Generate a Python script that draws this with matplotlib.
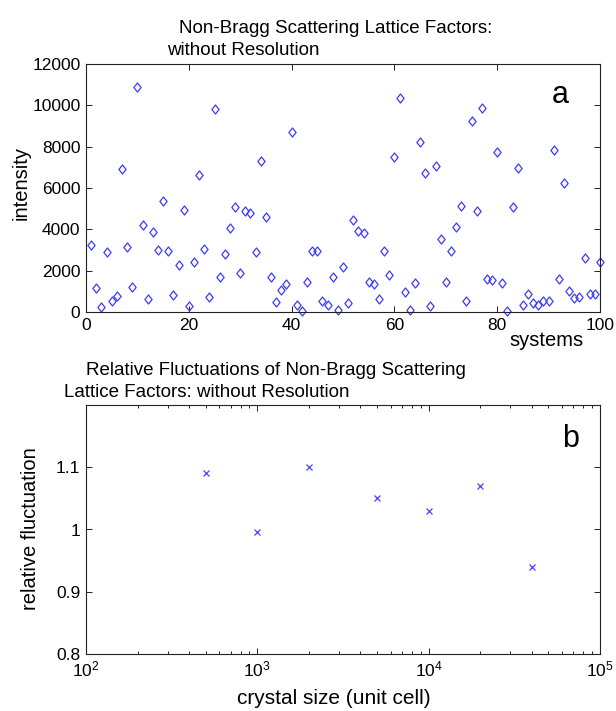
import matplotlib
matplotlib.use("Agg")
import matplotlib.pyplot as plt
from matplotlib.path import Path
from matplotlib.ticker import FixedLocator, LogLocator, NullFormatter

plt.rcParams['font.family'] = ['Liberation Sans', 'DejaVu Sans']
plt.rcParams['mathtext.default'] = 'regular'

# panel a - lattice factor intensity per system
systems = list(range(1, 101))
intensity = [3240, 1150, 260, 2920, 530, 760, 6940, 3160, 1190, 10870,
             4210, 610, 3860, 3000, 5390, 2940, 820, 2270, 4940, 310,
             2400, 6630, 3030, 710, 9810, 1690, 2790, 4050, 5070, 1900,
             4870, 4790, 2920, 7330, 4610, 1690, 480, 1050, 1370, 8730,
             360, 50, 1450, 2970, 2940, 530, 340, 1690, 80, 2160,
             450, 4470, 3920, 3810, 1450, 1370, 610, 2970, 1770, 7520,
             10370, 970, 80, 1420, 8230, 6730, 270, 7050, 3520, 1450,
             2970, 4130, 5110, 550, 9240, 4890, 9890, 1600, 1550, 7740,
             1390, 70, 5080, 6950, 340, 890, 440, 360, 530, 530,
             7840, 1610, 6240, 1030, 660, 740, 2630, 890, 870, 2400]
a_xticks = [0, 20, 40, 60, 80, 100]
a_yticks = [0, 2000, 4000, 6000, 8000, 10000, 12000]

# panel b - relative fluctuation vs crystal size
crystal_size = [500, 1000, 2000, 5000, 10000, 20000, 40000]
rel_fluct = [1.09, 0.996, 1.10, 1.05, 1.03, 1.07, 0.94]
b_yticks = [0.8, 0.9, 1.0, 1.1]
b_yticklabels = ['0.8', '0.9', '1', '1.1']

W, H = 616, 711
fig = plt.figure(figsize=(W / 100, H / 100), dpi=100)

def style_axes(ax):
    for s in ax.spines.values():
        s.set_linewidth(0.8)
        s.set_color('#222222')
    ax.tick_params(which='both', direction='in', top=True, right=True,
                   labelsize=12.5, width=0.7, color='#222222', pad=4)
    ax.tick_params(which='major', length=4)
    ax.tick_params(which='minor', length=2.5)

# matlab-like diamond, a bit taller than wide
diamond = Path([(0, 1), (0.8, 0), (0, -1), (-0.8, 0), (0, 1)],
               [Path.MOVETO, Path.LINETO, Path.LINETO, Path.LINETO, Path.CLOSEPOLY])

# ---------------- top panel ----------------
ax1 = fig.add_axes([86 / W, 1 - 312 / H, 514 / W, 248 / H])
ax1.plot(systems, intensity, linestyle='none', marker=diamond, markersize=6.5,
         markerfacecolor='none', markeredgecolor='#3c3cff', markeredgewidth=0.9,
         clip_on=False)
ax1.set_xlim(0, 100)
ax1.set_ylim(0, 12000)
ax1.xaxis.set_major_locator(FixedLocator(a_xticks))
ax1.yaxis.set_major_locator(FixedLocator(a_yticks))
style_axes(ax1)
ax1.set_ylabel('intensity', fontsize=14.5, va='center')
ax1.yaxis.set_label_coords((21 - 86) / 514, (312 - 182.5) / 248)
ax1.set_xlabel('systems', fontsize=14.5, va='center')
ax1.xaxis.set_label_coords((546 - 86) / 514, (312 - 340) / 248)
ax1.text(0.922, 0.843, 'a', transform=ax1.transAxes, fontsize=22,
         ha='center', va='baseline')

fig.text(179 / W, 1 - 33 / H, 'Non-Bragg Scattering Lattice Factors:',
         fontsize=13.5, ha='left', va='baseline')
fig.text(167 / W, 1 - 55 / H, 'without Resolution',
         fontsize=13.5, ha='left', va='baseline')

# ---------------- bottom panel ----------------
ax2 = fig.add_axes([86 / W, 1 - 654 / H, 514 / W, 249 / H])
ax2.plot(crystal_size, rel_fluct, linestyle='none', marker='x', markersize=4,
         markeredgecolor='#4646ff', markeredgewidth=0.9)
ax2.set_xscale('log')
ax2.set_xlim(1e2, 1e5)
ax2.set_ylim(0.8, 1.2)
ax2.xaxis.set_minor_locator(LogLocator(base=10, subs=range(2, 10)))
ax2.xaxis.set_minor_formatter(NullFormatter())
ax2.yaxis.set_major_locator(FixedLocator(b_yticks))
ax2.set_yticklabels(b_yticklabels)
style_axes(ax2)
ax2.set_ylabel('relative fluctuation', fontsize=14.5, va='center')
ax2.yaxis.set_label_coords((31 - 86) / 514, (654 - 529) / 249)
ax2.set_xlabel('crystal size (unit cell)', fontsize=15, va='center')
ax2.xaxis.set_label_coords((334 - 86) / 514, (654 - 699) / 249)
ax2.text(0.942, 0.831, 'b', transform=ax2.transAxes, fontsize=22,
         ha='center', va='baseline')

fig.text(86 / W, 1 - 375 / H, 'Relative Fluctuations of Non-Bragg Scattering',
         fontsize=13.5, ha='left', va='baseline')
fig.text(64 / W, 1 - 397 / H, 'Lattice Factors: without Resolution',
         fontsize=13.5, ha='left', va='baseline')

fig.savefig('out.png', dpi=100)
